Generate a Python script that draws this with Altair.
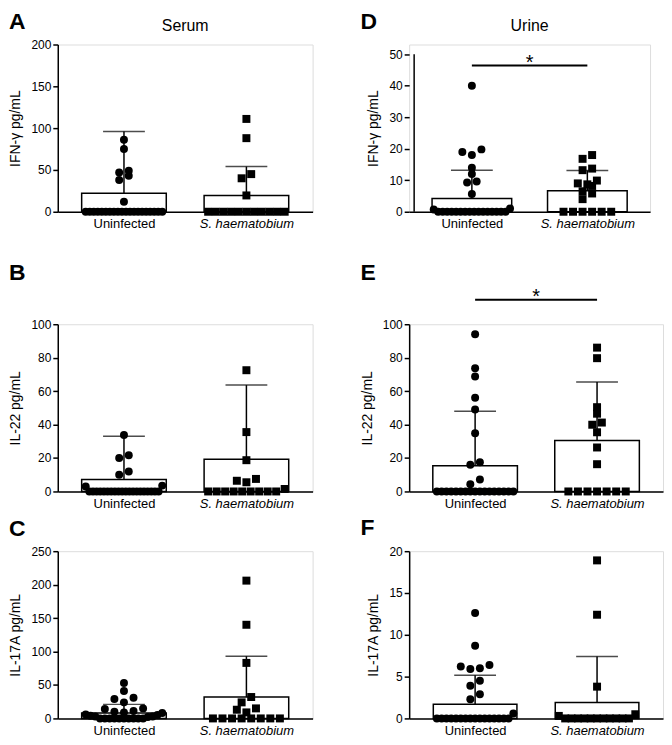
import altair as alt
import pandas as pd

GROUPS = ["Uninfected", "S. haematobium"]

# ---- Panel A: Serum IFN-y ----
A_uninf = [86, 75, 49, 47, 43, 38, 12]
A_uninf_zeros = 20
A_sh = [111, 88, 45, 40, 19.5]
A_sh_zeros = 11
A_mean = [22, 19.4]
A_upper = [96, 54]

# ---- Panel B: Serum IL-22 ----
B_uninf = [33.8, 21.6, 20, 12, 10, 3.5, 3]
B_uninf_zeros = 20
B_sh = [72.5, 35.5, 18.7, 7.5, 6.4, 5.5, 1.5]
B_sh_zeros = 9
B_mean = [7.2, 19.2]
B_upper = [33, 63.6]

# ---- Panel C: Serum IL-17A ----
C_uninf = [53, 41, 31, 29, 24, 15, 14, 11, 10, 9, 8, 6, 5, 4, 3, 3, 2]
C_uninf_zeros = 10
C_sh = [206, 140, 83, 32, 24, 15, 13, 9]
C_sh_zeros = 8
C_mean = [8, 32]
C_upper = [21, 93]

# ---- Panel D: Urine IFN-y ----
D_uninf = [40, 19.8, 19, 18, 14, 12, 9.6, 9.3, 5.6, 1, 0.7]
D_uninf_zeros = 16
D_sh = [18, 16.8, 13.7, 13.2, 9.9, 9, 8.7, 8.2, 6.5, 5.8, 4]
D_sh_zeros = 6
D_mean = [4.2, 6.7]
D_upper = [13.2, 13.1]
D_sig = 46.4

# ---- Panel E: Urine IL-22 ----
E_uninf = [94, 73.7, 68.8, 56, 49, 34.8, 17.5, 16, 7.2, 4.3]
E_uninf_zeros = 17
E_sh = [86, 79.7, 50.4, 46.5, 41.2, 39.9, 35.4, 26.3, 16.3]
E_sh_zeros = 7
E_mean = [15.4, 30.5]
E_upper = [48, 65.5]
E_sig = 114.7

# ---- Panel F: Urine IL-17A ----
F_uninf = [12.6, 8.7, 6.4, 6.2, 6.0, 5.9, 4.5, 3.9, 2.9, 2.3, 0.6]
F_uninf_zeros = 16
F_sh = [18.9, 12.4, 3.8, 0.5, 0.3]
F_sh_zeros = 11
F_mean = [1.7, 1.9]
F_upper = [5.15, 7.4]

H = 168
BLACK = "black"


def spread(values, zeros, ppu):
    """Spread overlapping points sideways (pixel offsets), GraphPad-like."""
    vals = sorted(list(values) + [0.0] * zeros)
    buckets = []
    for v in vals:
        if buckets and (v - buckets[-1][0]) * ppu < 6:
            buckets[-1].append(v)
        else:
            buckets.append([v])
    out = []
    for b in buckets:
        k = len(b)
        if k == 1:
            offs = [0.0]
        else:
            step = min(10.0, 80.0 / (k - 1))
            offs = [(i - (k - 1) / 2) * step for i in range(k)]
        # lowest values in the middle, higher ones towards the edges
        offs = sorted(offs, key=lambda o: (abs(o), o))
        out += list(zip(sorted(b), offs))
    return out


def panel(letter, ytitle, ymax, yticks, uninf, uz, sh, sz, means, uppers,
          W, bar_w, letter_dy, col_title=None, axis_top=None, sig=None):
    ppu = H / ymax
    rows = []
    for gi, (vals, z) in enumerate([(uninf, uz), (sh, sz)]):
        for v, off in spread(vals, z, ppu):
            rows.append({"group": GROUPS[gi], "xp": gi + off / (W / 2.0), "val": v})
    pts = pd.DataFrame(rows)
    summ = pd.DataFrame({"group": GROUPS, "idx": [0, 1], "mean": means, "upper": uppers})

    xscale = alt.Scale(domain=[-0.5, 1.5], nice=False, zero=False)
    yscale = alt.Scale(domain=[0, ymax], nice=False, zero=True)
    xaxis = alt.Axis(
        values=[0, 1],
        labelExpr="datum.value == 0 ? 'Uninfected' : 'S. haematobium'",
        labelFontStyle={"condition": {"test": "datum.value == 1", "value": "italic"}, "value": "normal"},
        ticks=False, tickSize=0, grid=False, title=None, labelPadding=6,
        labelFontSize=13, labelColor=BLACK, domainColor=BLACK, domainWidth=1.5,
    )
    yaxis = alt.Axis(
        values=yticks, title=ytitle, grid=False, tickSize=5, tickWidth=1.5,
        tickColor=BLACK, domainColor=BLACK, domainWidth=1.5,
        domain=(axis_top is None), labelFontSize=12, labelPadding=2,
        labelColor=BLACK, titleFontSize=14, titleFontWeight="normal",
        titlePadding=8, titleColor=BLACK,
    )

    def X(f):
        return alt.X(f, type="quantitative", scale=xscale, axis=xaxis)

    def Y(f):
        return alt.Y(f, type="quantitative", scale=yscale, axis=yaxis)

    base = alt.Chart(summ)
    bars = base.mark_bar(size=bar_w, fill="white", stroke=BLACK, strokeWidth=1.5,
                         orient="vertical").encode(x=X("idx"), y=Y("mean"))
    err = base.mark_rule(color=BLACK, strokeWidth=1.5).encode(
        x=X("idx"), y=Y("mean"), y2="upper")
    cap = base.mark_tick(orient="horizontal", size=42, thickness=1.5, color=BLACK).encode(
        x=X("idx"), y=Y("upper"))
    dots = alt.Chart(pts).mark_point(filled=True, opacity=1, color=BLACK, size=64).encode(
        x=X("xp"), y=Y("val"),
        shape=alt.Shape("group:N", scale=alt.Scale(domain=GROUPS, range=["circle", "square"]),
                        legend=None),
    )
    layers = [bars, err, cap, dots]

    if axis_top is not None:
        ax = pd.DataFrame({"x": [-0.5], "y0": [0], "y1": [axis_top]})
        layers.append(alt.Chart(ax).mark_rule(color=BLACK, strokeWidth=1.5).encode(
            x=X("x"), y=Y("y0"), y2="y1"))

    if sig is not None:
        sd = pd.DataFrame({"x0": [0], "x1": [1], "xm": [0.5], "y": [sig], "t": ["*"]})
        layers.append(alt.Chart(sd).mark_rule(color=BLACK, strokeWidth=2).encode(
            x=X("x0"), x2="x1", y=Y("y")))
        layers.append(alt.Chart(sd).mark_text(fontSize=20, baseline="alphabetic", dy=3,
                                              color=BLACK, font="Liberation Sans").encode(
            x=X("xm"), y=Y("y"), text="t:N"))

    lt = pd.DataFrame({"t": [letter]})
    layers.append(alt.Chart(lt).mark_text(fontSize=23, fontWeight="bold", align="left",
                                          baseline="middle", color=BLACK,
                                          font="Liberation Sans").encode(
        x=alt.value(-49), y=alt.value(letter_dy), text="t:N"))
    if col_title is not None:
        ct = pd.DataFrame({"t": [col_title]})
        layers.append(alt.Chart(ct).mark_text(fontSize=16, align="center", baseline="middle",
                                              color=BLACK, font="Liberation Sans").encode(
            x=alt.value(W / 2.0), y=alt.value(-19), text="t:N"))

    return alt.layer(*layers).properties(width=W, height=H)


WL, WR = 256, 255
pA = panel("A", "IFN-γ pg/mL", 200, [0, 50, 100, 150, 200], A_uninf, A_uninf_zeros, A_sh,
           A_sh_zeros, A_mean, A_upper, WL, 85, -23, col_title="Serum")
pB = panel("B", "IL-22 pg/mL", 100, [0, 20, 40, 60, 80, 100], B_uninf, B_uninf_zeros, B_sh,
           B_sh_zeros, B_mean, B_upper, WL, 85, -51)
pC = panel("C", "IL-17A pg/mL", 250, [0, 50, 100, 150, 200, 250], C_uninf, C_uninf_zeros, C_sh,
           C_sh_zeros, C_mean, C_upper, WL, 85, -22)
pD = panel("D", "IFN-γ pg/mL", 53.1, [0, 10, 20, 30, 40, 50], D_uninf, D_uninf_zeros, D_sh,
           D_sh_zeros, D_mean, D_upper, 242, 80, -23, col_title="Urine", axis_top=50, sig=D_sig)
pE = panel("E", "IL-22 pg/mL", 100, [0, 20, 40, 60, 80, 100], E_uninf, E_uninf_zeros, E_sh,
           E_sh_zeros, E_mean, E_upper, WR, 85, -51, sig=E_sig)
pF = panel("F", "IL-17A pg/mL", 20, [0, 5, 10, 15, 20], F_uninf, F_uninf_zeros, F_sh,
           F_sh_zeros, F_mean, F_upper, WR, 84, -23)

row1 = alt.hconcat(pA, pD, spacing=46)
row2 = alt.hconcat(pB, pE, spacing=46)
row3 = alt.hconcat(pC, pF, spacing=46)
inner = alt.vconcat(row2, row3, spacing=5)
chart = alt.vconcat(row1, inner, spacing=30).properties(
    padding=0
).configure_view(stroke=None).configure(font="Liberation Sans")

chart.save("out.html", embed_options={"renderer": "svg", "actions": False})
